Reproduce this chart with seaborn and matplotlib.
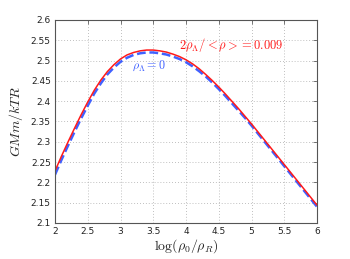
import matplotlib
matplotlib.use("Agg")
import matplotlib.pyplot as plt
import seaborn as sns
import pandas as pd

# data
log_rho = [2.0, 2.1, 2.2, 2.3, 2.4, 2.5, 2.6, 2.7, 2.8, 2.9, 3.0, 3.1, 3.2, 3.3, 3.4, 3.5,
           3.6, 3.7, 3.8, 3.9, 4.0, 4.1, 4.2, 4.3, 4.4, 4.5, 4.6, 4.7, 4.8, 4.9, 5.0,
           5.1, 5.2, 5.3, 5.4, 5.5, 5.6, 5.7, 5.8, 5.9, 6.0]
gmm_lambda = [2.228, 2.265, 2.300, 2.334, 2.367, 2.398, 2.427, 2.452, 2.473, 2.490, 2.504,
              2.514, 2.520, 2.524, 2.526, 2.526, 2.524, 2.521, 2.516, 2.510, 2.502,
              2.492, 2.480, 2.466, 2.451, 2.435, 2.418, 2.400, 2.382, 2.363, 2.344,
              2.324, 2.304, 2.284, 2.264, 2.244, 2.224, 2.204, 2.184, 2.164, 2.144]
gmm_zero = [2.219, 2.256, 2.291, 2.325, 2.358, 2.389, 2.419, 2.444, 2.466, 2.483, 2.497,
            2.507, 2.514, 2.518, 2.520, 2.520, 2.518, 2.515, 2.510, 2.504, 2.496,
            2.486, 2.474, 2.461, 2.446, 2.430, 2.413, 2.395, 2.377, 2.359, 2.340,
            2.320, 2.300, 2.280, 2.260, 2.240, 2.220, 2.200, 2.180, 2.160, 2.140]
xticks = [2, 2.5, 3, 3.5, 4, 4.5, 5, 5.5, 6]
xticklabels = ["2", "2.5", "3", "3.5", "4", "4.5", "5", "5.5", "6"]
yticks = [2.1, 2.15, 2.2, 2.25, 2.3, 2.35, 2.4, 2.45, 2.5, 2.55, 2.6]
yticklabels = ["2.1", "2.15", "2.2", "2.25", "2.3", "2.35", "2.4", "2.45", "2.5", "2.55", "2.6"]

sns.set_style("white")
plt.rcParams['mathtext.fontset'] = 'cm'
plt.rcParams['font.family'] = ['DejaVu Sans']

df = pd.DataFrame({"x": log_rho, "lam": gmm_lambda, "zero": gmm_zero})

fig = plt.figure(figsize=(3.5, 2.59), dpi=100)
ax = fig.add_axes([55/350, 1 - 223/259, (317-55)/350, (223-20)/259])

blue = (0.25, 0.38, 1.0)
red = (1.0, 0.1, 0.1)
sns.lineplot(data=df, x="x", y="zero", ax=ax, color=blue, lw=1.8, linestyle=(0, (3.5, 1.5)))
sns.lineplot(data=df, x="x", y="lam", ax=ax, color=red, lw=1.1)

ax.set_xlim(2, 6)
ax.set_ylim(2.1, 2.6)
ax.set_xticks(xticks)
ax.set_xticklabels(xticklabels)
ax.set_yticks(yticks)
ax.set_yticklabels(yticklabels)
ax.tick_params(direction='in', length=3, width=0.5, labelsize=6.5, top=True, right=True,
               labelcolor='#222222', color='#444444', pad=3)
for s in ax.spines.values():
    s.set_linewidth(0.8)
    s.set_color('#555555')
ax.grid(True, linestyle=(0, (1, 2.5)), color='#aaaaaa', lw=0.6)

ax.set_xlabel(r"$\log(\rho_0/\rho_R)$", fontsize=10, labelpad=1)
ax.set_ylabel(r"$GMm/kTR$", fontsize=10, labelpad=4)

ax.text(3.9, 2.538, r"$2\rho_\Lambda/<\rho>=0.009$", color=red, fontsize=9, va='center', ha='left')
ax.text(3.18, 2.486, r"$\rho_\Lambda=0$", color=blue, fontsize=8.7, va='center', ha='left')

fig.savefig("out.png", dpi=100)
